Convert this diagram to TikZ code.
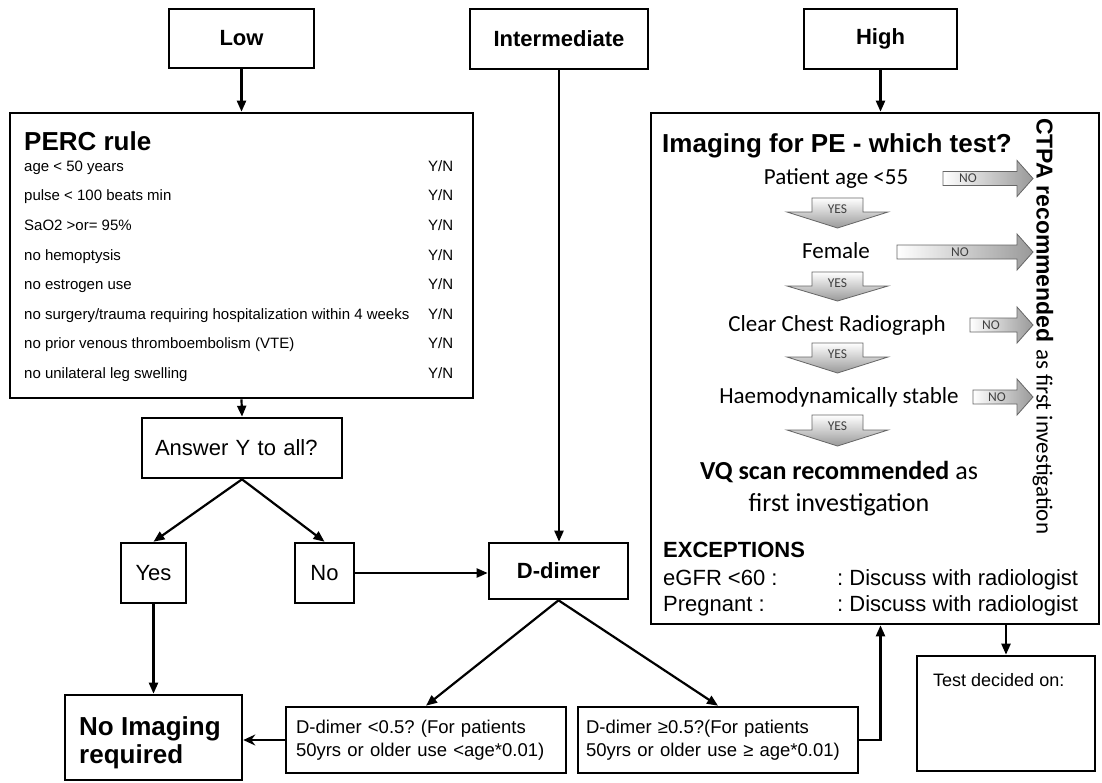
\documentclass[tikz,border=0pt]{standalone}
\usepackage{fontspec}
\setmainfont{Liberation Sans}
\newfontfamily\calib{Carlito}
\usetikzlibrary{arrows.meta,calc}
\newcommand\myfs[2]{\fontsize{#1}{#2}\selectfont}
\frenchspacing
\tikzset{
  box/.style={draw, line width=2.6pt, inner sep=0pt},
  conn/.style={line width=2.2pt, -{Triangle[length=11pt,width=9pt]}},
  txt/.style={inner sep=0pt, anchor=base west},
  item/.style={txt, font=\myfs{15}{18}},
  calt/.style={inner sep=0pt, anchor=base, font={\calib\myfs{23}{27}}},
  lbl/.style={inner sep=0pt, font={\calib\myfs{13.5}{16}}, text=black!75},
  noarr/.style={draw=black!60, line width=0.8pt, left color=white, right color=black!40},
  yesarr/.style={draw=black!60, line width=0.8pt, top color=white, bottom color=black!40},
}
\newcommand\myNoArrow[5]{%
  \shadedraw[noarr] (#1,#3-7) -- (#2,#3-7) -- (#2,#3-18) -- (#2+16,#3) -- (#2,#3+18) -- (#2,#3+7) -- (#1,#3+7) -- cycle;
  \node[lbl] (#5) at (#4,#3) {NO};}
\newcommand\myYesArrow[4]{%
  \shadedraw[yesarr] (812,#1) -- (863,#1) -- (863,#2) -- (888,#2) -- (837.5,#3) -- (787,#2) -- (812,#2) -- cycle;
  \node[lbl] (#4) at (837.5,#1+11) {YES};}
\begin{document}
\begin{tikzpicture}[x=1pt,y=-1pt]
\useasboundingbox (0,0) rectangle (1102,782);
\fill[white] (0,0) rectangle (1102,782);

% top boxes
\node[box, minimum width=145pt, minimum height=59pt, font={\myfs{22}{26}\bfseries}] (low) at (241.5,38.5) {Low};
\node[box, minimum width=178pt, minimum height=60pt, font={\myfs{22}{26}\bfseries}] (inter) at (559,39) {Intermediate};
\node[box, minimum width=153pt, minimum height=60pt, font={\myfs{22}{26}\bfseries}] (high) at (880.5,39) {High};

% PERC box
\node[box, minimum width=463pt, minimum height=285pt] (perc) at (241.5,255.5) {};
\node[txt, font={\myfs{26}{30}\bfseries}] (perct) at (24,150) {PERC rule};
\node[item] (i1) at (24,171) {age < 50 years};
\node[item] (i2) at (24,200) {pulse < 100 beats min};
\node[item] (i3) at (24,230) {SaO2 >or= 95\%};
\node[item] (i4) at (24,260) {no hemoptysis};
\node[item] (i5) at (24,289) {no estrogen use};
\node[item] (i6) at (24,319) {no surgery/trauma requiring hospitalization within 4 weeks};
\node[item] (i7) at (24,348) {no prior venous thromboembolism (VTE)};
\node[item] (i8) at (24,378) {no unilateral leg swelling};
\node[item] (y1) at (428,171) {Y/N};
\node[item] (y2) at (428,200) {Y/N};
\node[item] (y3) at (428,230) {Y/N};
\node[item] (y4) at (428,260) {Y/N};
\node[item] (y5) at (428,289) {Y/N};
\node[item] (y6) at (428,319) {Y/N};
\node[item] (y7) at (428,348) {Y/N};
\node[item] (y8) at (428,378) {Y/N};

% left flow
\node[box, minimum height=60pt, text width=174pt, inner xsep=13pt, align=left, font=\myfs{22}{26}] (ans) at (242,448) {Answer Y to all?};
\node[box, minimum width=65pt, minimum height=60pt, font=\myfs{22}{26}] (yes) at (153.5,573) {Yes};
\node[box, minimum width=59pt, minimum height=60pt, font=\myfs{22}{26}] (no) at (324.5,573) {No};
\node[box, minimum width=139pt, minimum height=56pt, font={\myfs{22}{26}\bfseries}] (dd) at (558.5,571) {D-dimer};
\node[box, minimum width=177pt, minimum height=85pt] (noimg) at (153.5,737.5) {};
\node[txt, font={\myfs{26}{28}\bfseries}] (noimg1) at (79,735) {No Imaging};
\node[txt, font={\myfs{26}{28}\bfseries}] (noimg2) at (79,763) {required};
\node[box, minimum height=66pt, text width=260pt, inner xsep=10pt, align=left, font=\myfs{18.5}{23.5}] (dlo) at (426,740) {D-dimer <0.5? (For patients\\50yrs or older use <age*0.01)};
\node[box, minimum height=66pt, text width=264pt, inner xsep=8pt, align=left, font=\myfs{18.5}{23.5}] (dhi) at (718,740) {D-dimer ≥0.5?(For patients\\50yrs or older use ≥ age*0.01)};

% imaging box
\node[box, minimum width=448pt, minimum height=511pt] (img) at (875,368.5) {};
\node[txt, font={\myfs{26}{30}\bfseries}] (imgt) at (662,152) {Imaging for PE - which test?};
\node[calt] (q1) at (836,184) {Patient age <55};
\node[calt] (q2) at (836,258) {Female};
\node[calt] (q3) at (837,331) {Clear Chest Radiograph};
\node[calt] (q4) at (839,403) {Haemodynamically stable};
\myNoArrow{943}{1017}{178.5}{968}{n1}
\myNoArrow{897}{1017}{252}{960}{n2}
\myNoArrow{970}{1017}{325}{991}{n3}
\myNoArrow{973}{1017}{397}{997}{n4}
\myYesArrow{198}{212}{228}{ya1}
\myYesArrow{272}{286}{301}{ya2}
\myYesArrow{343}{357}{373}{ya3}
\myYesArrow{415}{430}{446}{ya4}
\node[inner sep=0pt, anchor=base, font={\calib\myfs{26}{31}}] (vq1) at (839,479) {\textbf{VQ scan recommended} as};
\node[inner sep=0pt, anchor=base, font={\calib\myfs{26}{31}}] (vq2) at (839,511) {first investigation};
\node[inner sep=0pt, rotate=-90, anchor=west, font=\myfs{23}{27}] (ctpa) at (1043,118) {\textbf{CTPA recommended} {\calib as first investigation}};
\node[txt, font={\myfs{22}{26}\bfseries}] (exc) at (663,557) {EXCEPTIONS};
\node[txt, font=\myfs{22}{26}] (e1) at (663,585) {eGFR <60 :};
\node[txt, font=\myfs{22}{26}] (e1b) at (837,585) {: Discuss with radiologist};
\node[txt, font=\myfs{22}{26}] (e2) at (663,611) {Pregnant :};
\node[txt, font=\myfs{22}{26}] (e2b) at (837,611) {: Discuss with radiologist};

% test box
\node[box, minimum width=178pt, minimum height=115pt] (test) at (1006,713.5) {};
\node[txt, font=\myfs{18}{22}] (testt) at (933,686) {Test decided on:};

% connectors
\draw[conn] (low.south) -- (perc.north);
\draw[conn] (inter.south) -- (inter.south |- dd.north);
\draw[conn] (high.south) -- (high.south |- img.north);
\draw[conn] (perc.south) -- (ans.north);
\draw[conn] (ans.south) -- (yes.north);
\draw[conn] (ans.south) -- (no.north);
\draw[conn] (yes.south) -- (noimg.north);
\draw[conn] (no.east) -- (no.east -| dd.west);
\draw[conn] (dd.south) -- (dlo.north);
\draw[conn] (dd.south) -- (dhi.north);
\draw[line width=2.2pt, -{Stealth[length=12pt,width=11pt,inset=4pt]}] (dlo.west) -- (dlo.west -| noimg.east);
\draw[conn] (dhi.east) -| (high.south |- img.south);
\draw[conn] (test.north |- img.south) -- (test.north);
\end{tikzpicture}
\end{document}
